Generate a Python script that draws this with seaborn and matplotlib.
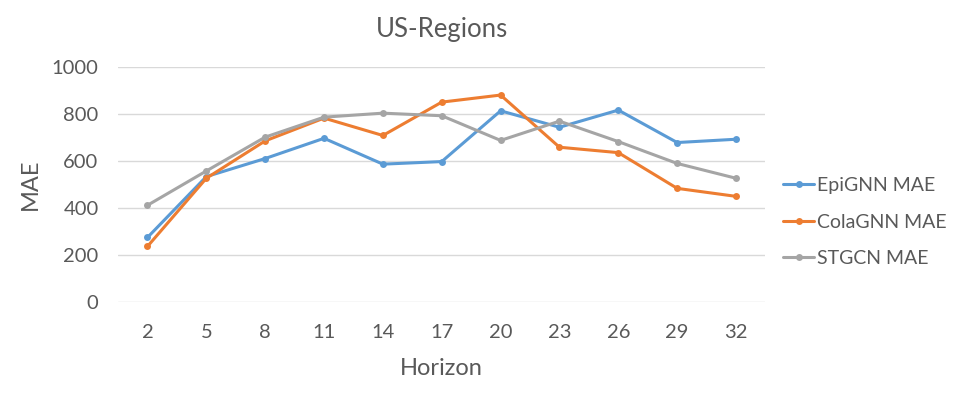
import matplotlib
matplotlib.use("Agg")
import matplotlib.pyplot as plt
import pandas as pd
import seaborn as sns

# ---------------------------------------------------------------------------
# Data
# ---------------------------------------------------------------------------
horizons = ["2", "5", "8", "11", "14", "17", "20", "23", "26", "29", "32"]
epignn_mae = [275, 534, 611, 697, 587, 598, 814, 744, 817, 679, 693]
colagnn_mae = [237, 527, 686, 783, 709, 851, 881, 659, 636, 484, 450]
stgcn_mae = [412, 558, 702, 787, 804, 793, 688, 770, 683, 590, 527]

series_names = ["EpiGNN MAE", "ColaGNN MAE", "STGCN MAE"]
colors = ["#5B9BD5", "#ED7D31", "#A5A5A5"]
TEXT = "#595959"

df = pd.concat([
    pd.DataFrame({"Horizon": horizons, "MAE": vals, "series": name})
    for name, vals in zip(series_names, [epignn_mae, colagnn_mae, stgcn_mae])
])

sns.set_theme(style="white")
plt.rcParams["font.family"] = ["Lato", "DejaVu Sans"]

fig = plt.figure(figsize=(9.62, 3.97), dpi=100)
ax = fig.add_axes([0.1227, 0.239, 0.673, 0.592])

sns.lineplot(
    data=df, x="Horizon", y="MAE", hue="series", palette=colors,
    marker="o", markersize=5, markeredgewidth=0, linewidth=2.2,
    sort=False, ax=ax,
)

ax.set_xlim(-0.5, len(horizons) - 0.5)
ax.set_ylim(0, 1000)
ax.set_yticks(range(0, 1001, 200))
ax.grid(axis="y", color="#D9D9D9", linewidth=1)
ax.set_axisbelow(True)
for s in ax.spines.values():
    s.set_visible(False)
ax.tick_params(axis="both", length=0, labelsize=14.5, colors=TEXT)
ax.tick_params(axis="x", pad=16)
ax.tick_params(axis="y", pad=14)

ax.set_xlabel("Horizon", fontsize=17, color=TEXT, labelpad=12)
ax.set_ylabel("MAE", fontsize=17, color=TEXT, labelpad=8)
ax.set_title("US-Regions", fontsize=18.5, color=TEXT, pad=22)

handles, labels = ax.get_legend_handles_labels()
ax.legend(
    handles, labels, loc="center left", bbox_to_anchor=(1.0, 0.34),
    frameon=False, fontsize=14, labelcolor=TEXT, handlelength=1.6,
    handletextpad=0.15, labelspacing=1.0,
)

fig.savefig("out.png", dpi=100)
